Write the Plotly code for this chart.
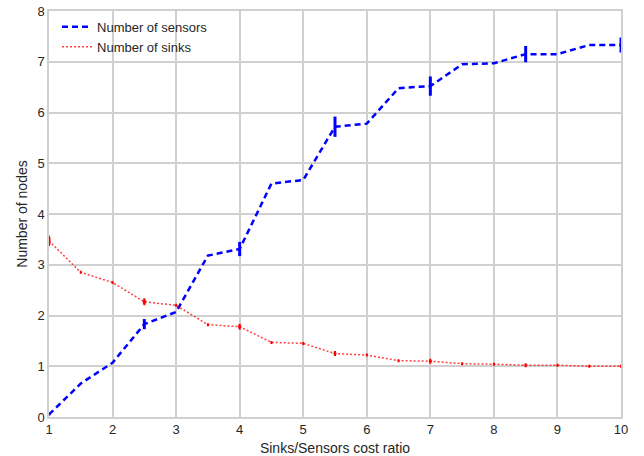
import plotly.graph_objects as go

ratio = [1, 1.5, 2, 2.5, 3, 3.5, 4, 4.5, 5, 5.5, 6, 6.5, 7, 7.5, 8, 8.5, 9, 9.5, 10]
sensors = [0.05, 0.66, 1.07, 1.83, 2.07, 3.18, 3.31, 4.6, 4.67, 5.72, 5.78, 6.48, 6.52, 6.95, 6.97, 7.15, 7.15, 7.33, 7.33]
sensors_err = [0.02, 0, 0, 0.1, 0, 0, 0.14, 0, 0, 0.2, 0, 0, 0.19, 0, 0, 0.16, 0, 0, 0.15]
sinks = [3.47, 2.85, 2.65, 2.27, 2.2, 1.82, 1.78, 1.47, 1.45, 1.25, 1.22, 1.11, 1.1, 1.05, 1.04, 1.02, 1.02, 1.0, 1.0]
sinks_err = [0.07, 0, 0, 0.04, 0, 0, 0.03, 0, 0, 0.02, 0, 0, 0.02, 0, 0, 0.01, 0, 0, 0.0]

fig = go.Figure()
fig.add_trace(go.Scatter(
    x=ratio, y=sensors, mode="lines", name="Number of sensors",
    line=dict(color="#0000ff", width=2.5, dash="6px,4px"),
    error_y=dict(type="data", array=sensors_err, color="#0000ff", thickness=3, width=0),
))
fig.add_trace(go.Scatter(
    x=ratio, y=sinks, mode="lines", name="Number of sinks",
    line=dict(color="rgba(255,0,0,0.75)", width=1.5, dash="2px,2px"),
    error_y=dict(type="data", array=sinks_err, color="#ff0000", thickness=3, width=1),
))

axis_common = dict(
    showgrid=True, gridcolor="#d0d0d0", gridwidth=1.5,
    showline=True, linecolor="#d0d0d0", linewidth=1.5, mirror=True,
    zeroline=False, ticks="", tickfont=dict(size=13, color="#262626"),
    title_font=dict(size=14, color="#262626"), automargin=False,
)
fig.update_xaxes(range=[1, 10], dtick=1, title_text="Sinks/Sensors cost ratio", title_standoff=8, **axis_common)
fig.update_yaxes(range=[0, 8], dtick=1, title_text="Number of nodes", title_standoff=7, **axis_common)

fig.update_layout(
    width=644, height=456,
    margin=dict(l=49, r=23, t=11, b=39),
    plot_bgcolor="white", paper_bgcolor="white",
    font=dict(family="Liberation Sans, Arial, sans-serif", color="#262626"),
    legend=dict(x=0.014, y=0.998, xanchor="left", yanchor="top", bgcolor="rgba(0,0,0,0)",
                font=dict(size=13), tracegroupgap=0, itemwidth=30),
    showlegend=True,
)
fig.write_html("out.html", config={"displayModeBar": False},
               post_script="document.body.style.margin='0';document.body.style.padding='0';")
